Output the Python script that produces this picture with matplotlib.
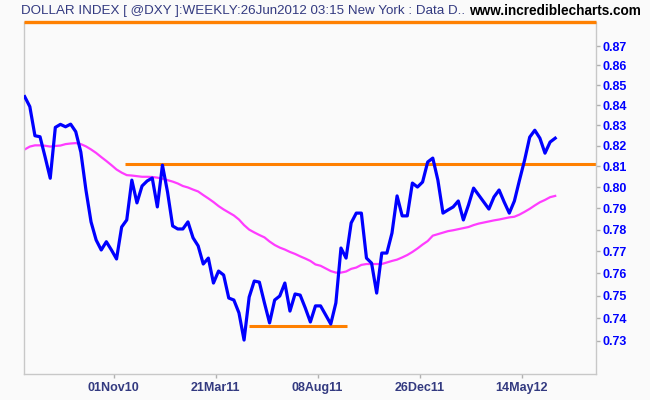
import numpy as np
import pandas as pd
import matplotlib
matplotlib.use('Agg')
import matplotlib.pyplot as plt
import matplotlib.dates as mdates
from matplotlib.ticker import FixedLocator, NullLocator, FormatStrFormatter

plt.rc('font', family=['Liberation Sans', 'DejaVu Sans'])

# weekly closes, Dollar Index
dates = pd.date_range('2010-07-02', periods=105, freq='7D')
close = [0.8442, 0.8392, 0.8248, 0.8243, 0.8144, 0.8042, 0.8289, 0.8304, 0.8292, 0.8305,
         0.8268, 0.8168, 0.7986, 0.7836, 0.7752, 0.7706, 0.7744, 0.7706, 0.7665, 0.7812,
         0.7845, 0.8033, 0.7925, 0.8005, 0.8029, 0.8043, 0.7906, 0.8105, 0.7976, 0.7817,
         0.7803, 0.7803, 0.7836, 0.7762, 0.7725, 0.7642, 0.7669, 0.7556, 0.7610, 0.7592,
         0.7489, 0.7480, 0.7423, 0.7304, 0.7493, 0.7565, 0.7560, 0.7467, 0.7379, 0.7480,
         0.7498, 0.7556, 0.7431, 0.7507, 0.7502, 0.7445, 0.7383, 0.7454, 0.7454, 0.7414,
         0.7374, 0.7467, 0.7715, 0.7669, 0.7831, 0.7877, 0.7877, 0.7669, 0.7646, 0.7511,
         0.7692, 0.7692, 0.7784, 0.7958, 0.7864, 0.7864, 0.8019, 0.8000, 0.8024, 0.8120,
         0.8139, 0.8033, 0.7877, 0.7892, 0.7906, 0.7934, 0.7845, 0.7915, 0.7995, 0.7962,
         0.7929, 0.7896, 0.7953, 0.7986, 0.7929, 0.7877, 0.7934, 0.8033, 0.8129, 0.8241,
         0.8275, 0.8236, 0.8163, 0.8217, 0.8236]

# moving average
mavg = [0.8181, 0.8195, 0.8201, 0.8201, 0.8199, 0.8195, 0.8198, 0.8200, 0.8207, 0.8210,
        0.8212, 0.8207, 0.8196, 0.8181, 0.8164, 0.8144, 0.8125, 0.8105, 0.8084, 0.8069,
        0.8057, 0.8055, 0.8052, 0.8049, 0.8049, 0.8048, 0.8045, 0.8040, 0.8033, 0.8026,
        0.8017, 0.8005, 0.7998, 0.7988, 0.7979, 0.7962, 0.7946, 0.7929, 0.7910, 0.7894,
        0.7880, 0.7866, 0.7847, 0.7821, 0.7800, 0.7787, 0.7775, 0.7764, 0.7745, 0.7729,
        0.7717, 0.7708, 0.7697, 0.7688, 0.7677, 0.7667, 0.7656, 0.7640, 0.7634, 0.7622,
        0.7610, 0.7603, 0.7603, 0.7608, 0.7620, 0.7626, 0.7638, 0.7642, 0.7642, 0.7642,
        0.7642, 0.7649, 0.7656, 0.7662, 0.7672, 0.7683, 0.7697, 0.7713, 0.7731, 0.7747,
        0.7772, 0.7779, 0.7786, 0.7793, 0.7797, 0.7802, 0.7807, 0.7812, 0.7821, 0.7828,
        0.7833, 0.7838, 0.7843, 0.7847, 0.7852, 0.7857, 0.7860, 0.7870, 0.7883, 0.7897,
        0.7913, 0.7928, 0.7939, 0.7952, 0.7958]

# trend lines drawn on the chart
top_level = 0.8828
resist_level = 0.811
resist_start = '2010-11-16'
support_level = 0.7365
support_start, support_end = '2011-05-06', '2011-09-17'

yticks = [0.73, 0.74, 0.75, 0.76, 0.77, 0.78, 0.79, 0.80, 0.81, 0.82, 0.83, 0.84, 0.85, 0.86, 0.87]
xticks = ['2010-11-01', '2011-03-21', '2011-08-08', '2011-12-26', '2012-05-14']

bg = '#fafafa'
fig = plt.figure(figsize=(6.5, 4.0), dpi=100, facecolor=bg)
ax = fig.add_axes([24/650, 26/400, 572/650, 352.5/400], facecolor=bg)

xmin = dates[0] - pd.Timedelta(days=1)
xmax = dates[0] + pd.Timedelta(days=784)

ax.plot(dates, mavg, color='#ff3cff', lw=1.6, zorder=2)
ax.plot(dates, close, color='#0000ff', lw=2.3, zorder=3)
ax.hlines(resist_level, pd.Timestamp(resist_start), xmax, color='#ff8000', lw=2.2, zorder=1)
ax.hlines(support_level, pd.Timestamp(support_start), pd.Timestamp(support_end),
          color='#ff8000', lw=2.2, zorder=1)
ax.hlines(top_level, xmin, xmax, color='#ff8000', lw=2.4, zorder=4, clip_on=False)

ax.set_yscale('log')
ax.set_ylim(0.7158, top_level)
ax.set_xlim(xmin, xmax)

ax.yaxis.tick_right()
ax.yaxis.set_major_locator(FixedLocator(yticks))
ax.yaxis.set_minor_locator(NullLocator())
ax.yaxis.set_major_formatter(FormatStrFormatter('%.2f'))
ax.tick_params(axis='y', colors='#b0b0b0', labelcolor='#0000ff', length=3, width=1,
               labelsize=9, pad=1.5)
for t in ax.get_yticklabels():
    t.set_fontweight('bold')

ax.xaxis.set_major_locator(FixedLocator(mdates.date2num(pd.to_datetime(xticks))))
ax.xaxis.set_major_formatter(mdates.DateFormatter('%d%b%y'))
ax.tick_params(axis='x', colors='#b0b0b0', labelcolor='#333a80', length=3, width=1,
               labelsize=9, pad=3)
for t in ax.get_xticklabels():
    t.set_fontweight('bold')

for s in ['left', 'right', 'bottom']:
    ax.spines[s].set_color('#c8c8c8')
    ax.spines[s].set_linewidth(1)
ax.spines['top'].set_visible(False)

fig.text(21/650, 1 - 11/400, 'DOLLAR INDEX [ @DXY ]:WEEKLY:26Jun2012 03:15 New York : Data D..',
         color='#333a80', fontsize=9.6, va='center', ha='left')
fig.text(641/650, 1 - 11/400, 'www.incrediblecharts.com', color='black', fontsize=9.8,
         fontweight='bold', va='center', ha='right')

fig.savefig('out.png', dpi=100, facecolor=bg)
